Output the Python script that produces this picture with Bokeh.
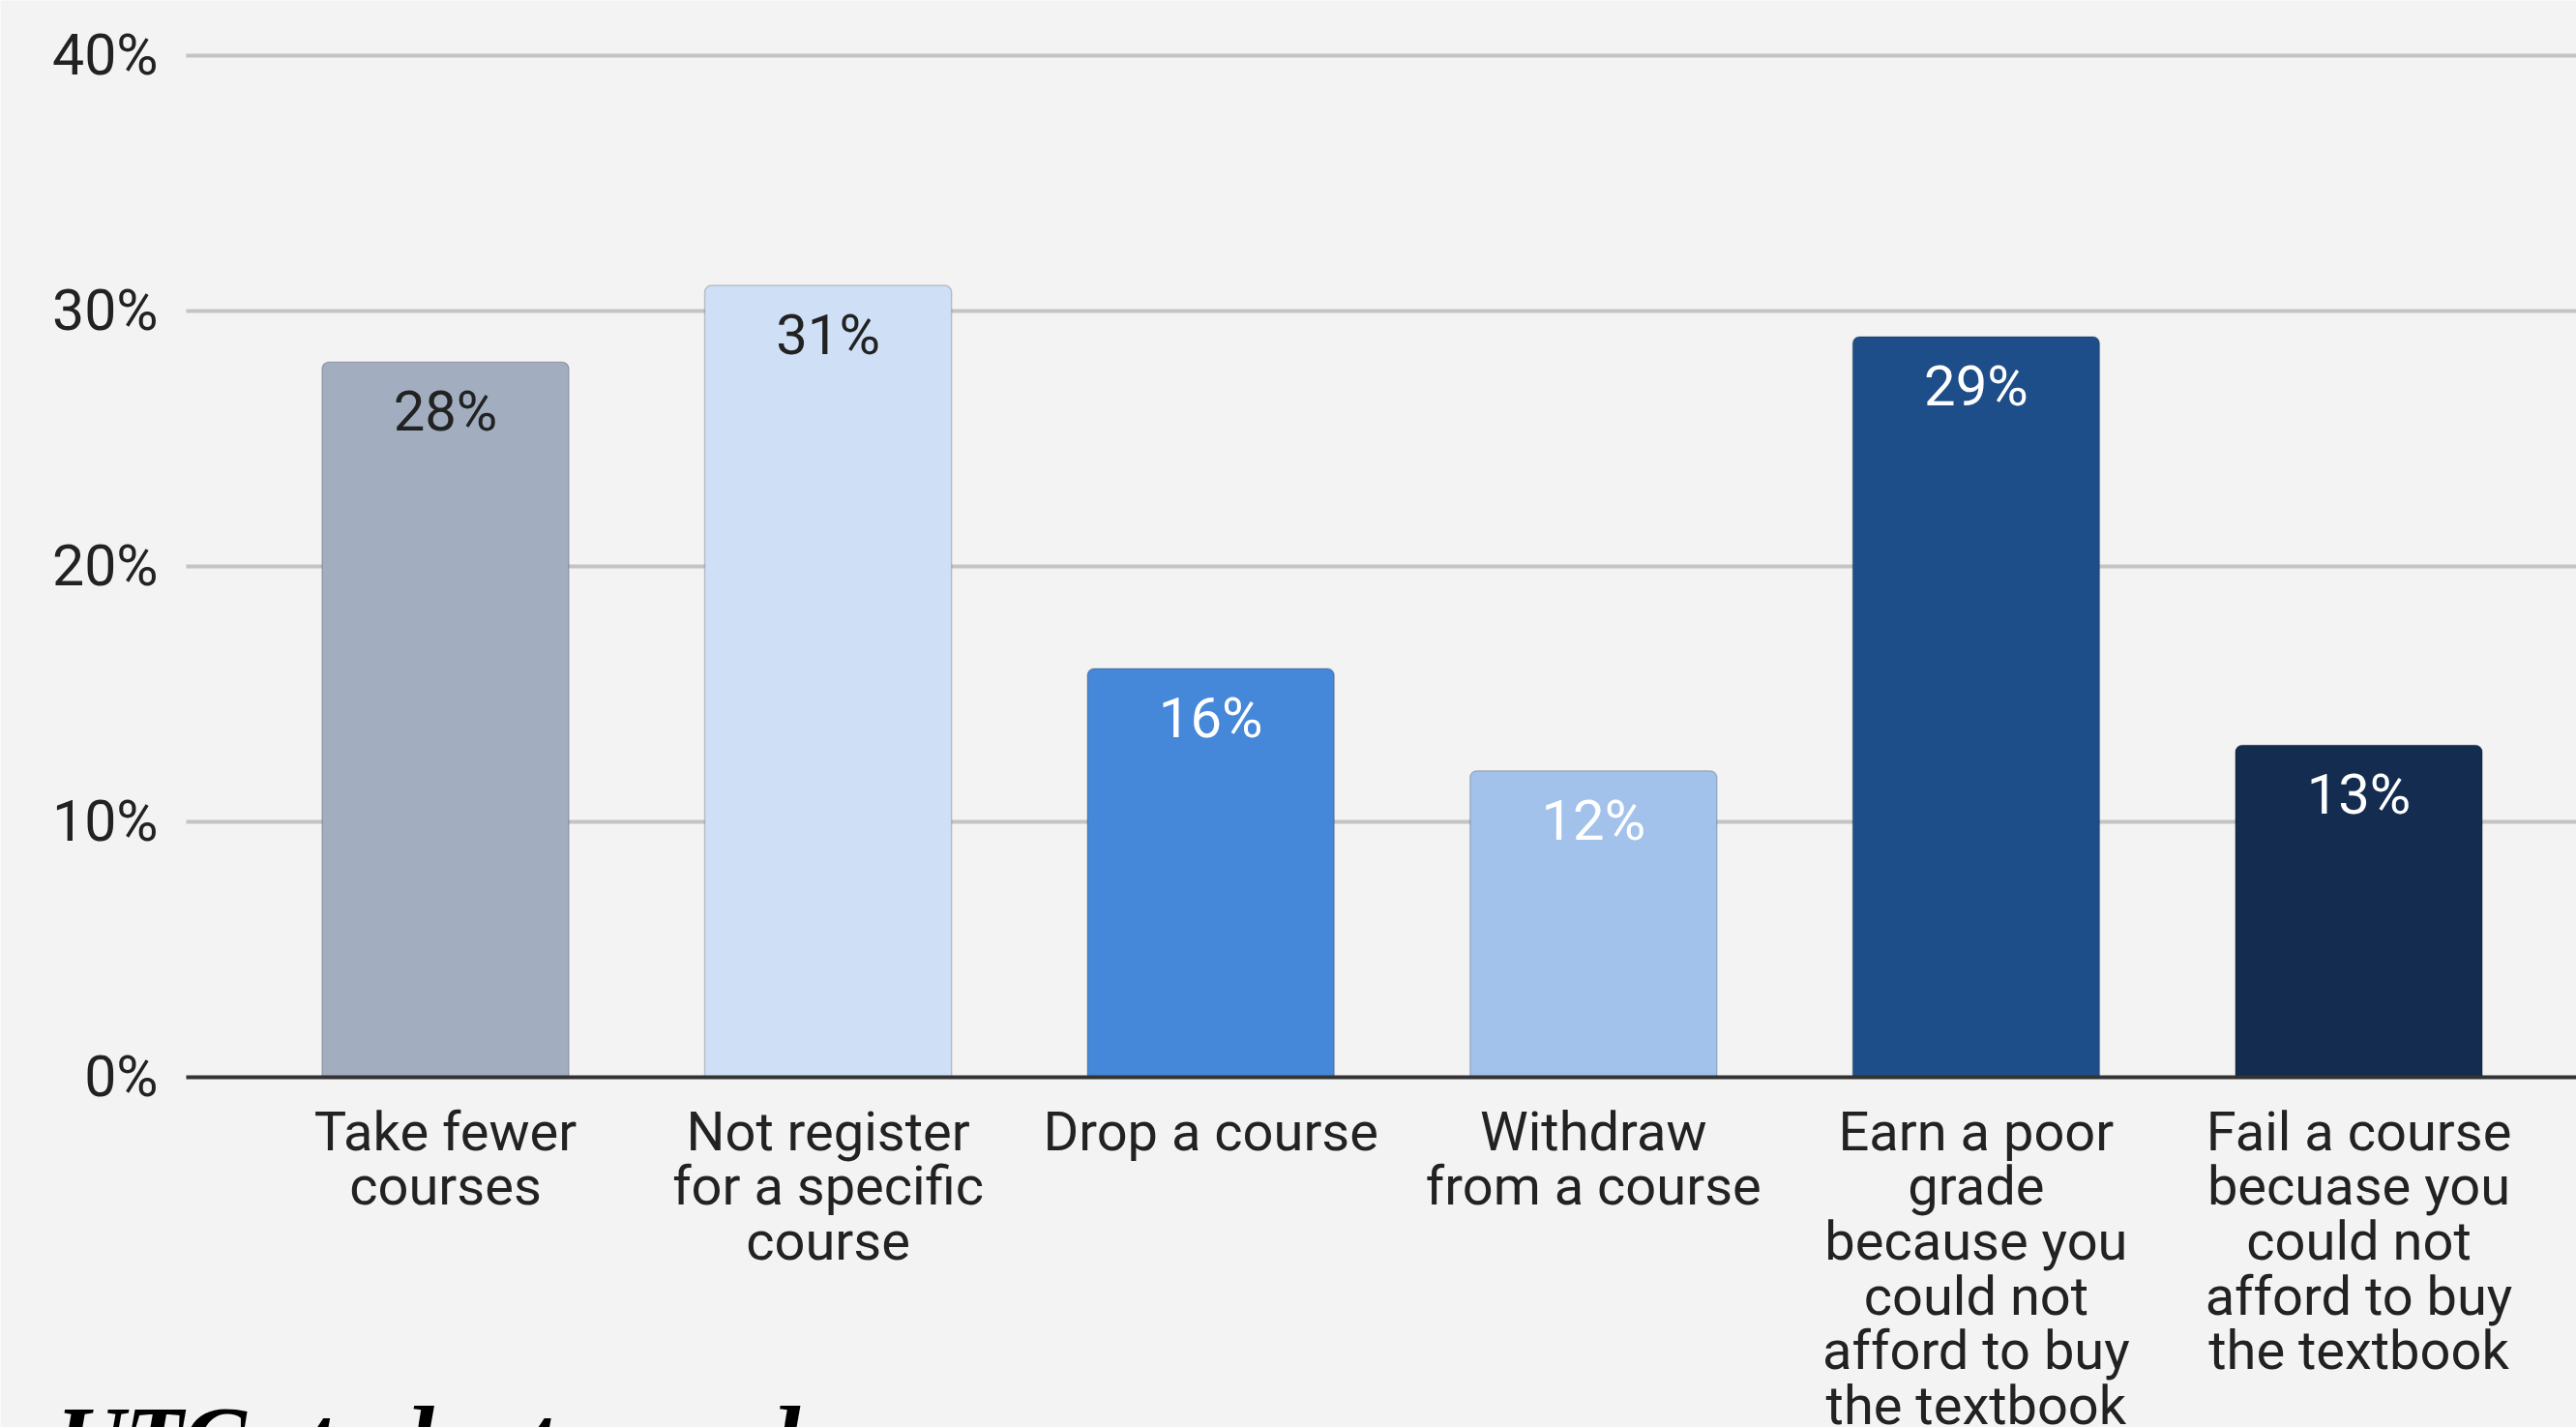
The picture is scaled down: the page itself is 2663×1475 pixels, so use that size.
from bokeh.plotting import figure
from bokeh.models import ColumnDataSource, Range1d
from bokeh.core.properties import value
from bokeh.embed import file_html
from bokeh.resources import INLINE

# ---- data ----
categories = [
    "Take fewer\ncourses",
    "Not register\nfor a specific\ncourse",
    "Drop a course",
    "Withdraw\nfrom a course",
    "Earn a poor\ngrade\nbecause you\ncould not\nafford to buy\nthe textbook",
    "Fail a course\nbecuase you\ncould not\nafford to buy\nthe textbook",
]
values = [28, 31, 16, 12, 29, 13]
value_labels = ["28%", "31%", "16%", "12%", "29%", "13%"]
bar_colors = ["#a2aec0", "#cfe0f6", "#4587d8", "#a2c2ec", "#1d4e89", "#132c4f"]
label_colors = ["#222222", "#222222", "#ffffff", "#ffffff", "#ffffff", "#ffffff"]
y_ticks = [0, 10, 20, 30, 40]
y_tick_labels = ["0%", "10%", "20%", "30%", "40%"]
heading = "UTC students need"

# ---- layout constants (pixels) ----
W, H = 2663, 1475
PX = 26.4            # pixels per percentage point
STEP = 395.6         # pixels per category
X0_PX = 460          # pixel x of first category centre
Y0_PX = 1113         # pixel y of 0%
GRID_LEFT_PX = 192   # where grid lines begin
LABEL_RIGHT_PX = 163 # right edge of y tick labels
TXT_SHIFT = 17       # text baseline correction (px, upwards)

def xd(px):
    return (px - X0_PX) / STEP

def yd_off(dpx):
    # data offset for a pixel distance below a point (corrected for text baseline)
    return -(dpx - TXT_SHIFT) / PX

xs = list(range(len(categories)))

p = figure(
    width=W, height=H,
    x_range=Range1d(xd(0), xd(W)),
    y_range=Range1d(-(H - Y0_PX) / PX, Y0_PX / PX),
    output_backend="svg", toolbar_location=None,
    x_axis_location=None, y_axis_location=None,
    min_border_left=0, min_border_right=0, min_border_top=0, min_border_bottom=0,
    background_fill_color="#f3f3f3", border_fill_color="#f3f3f3",
    outline_line_color=None,
)
p.grid.visible = False

# grid lines
gt = [t for t in y_ticks if t > 0]
p.segment(x0=[xd(GRID_LEFT_PX)] * len(gt), x1=[xd(W)] * len(gt), y0=gt, y1=gt,
          line_color="#c4c4c4", line_width=4)

# y tick labels
p.text(x=[xd(LABEL_RIGHT_PX)] * len(y_ticks), y=[t + yd_off(16) for t in y_ticks],
       text=y_tick_labels, text_align="right", text_baseline="alphabetic",
       text_font=value("Roboto"), text_font_size="59px", text_color="#222222")

# bars
src = ColumnDataSource(dict(x=xs, top=values, color=bar_colors))
p.vbar(x="x", top="top", bottom=0, width=0.645, source=src,
       fill_color="color", line_color="#000000", line_alpha=0.18, line_width=1.5,
       border_radius=(7, 7, 0, 0))

# baseline
p.segment(x0=[xd(GRID_LEFT_PX)], x1=[xd(W)], y0=[0], y1=[0],
          line_color="#333333", line_width=4)

# value labels inside bars
vsrc = ColumnDataSource(dict(x=xs, y=[v + yd_off(68) for v in values],
                             text=value_labels, c=label_colors))
p.text(x="x", y="y", text="text", source=vsrc, text_align="center",
       text_baseline="alphabetic", text_color="c",
       text_font=value("Roboto"), text_font_size="58px")

# category labels (one entry per line)
cx, cy, ct = [], [], []
for i, lab in enumerate(categories):
    for k, line in enumerate(lab.split("\n")):
        cx.append(xs[i])
        cy.append(yd_off(73 + 56.7 * k))
        ct.append(line)
csrc = ColumnDataSource(dict(x=cx, y=cy, text=ct))
p.text(x="x", y="y", text="text", source=csrc, text_align="center",
       text_baseline="alphabetic", text_color="#222222",
       text_font=value("Roboto"), text_font_size="56px")

# heading below chart (cut off at bottom)
p.text(x=[xd(58)], y=[yd_off(1504 - Y0_PX)], text=[heading],
       text_font=value("Liberation Serif"), text_font_style="bold italic",
       text_font_size="98px", text_color="#000000",
       text_baseline="alphabetic", text_align="left")

open("out.html", "w").write(file_html(p, INLINE))
